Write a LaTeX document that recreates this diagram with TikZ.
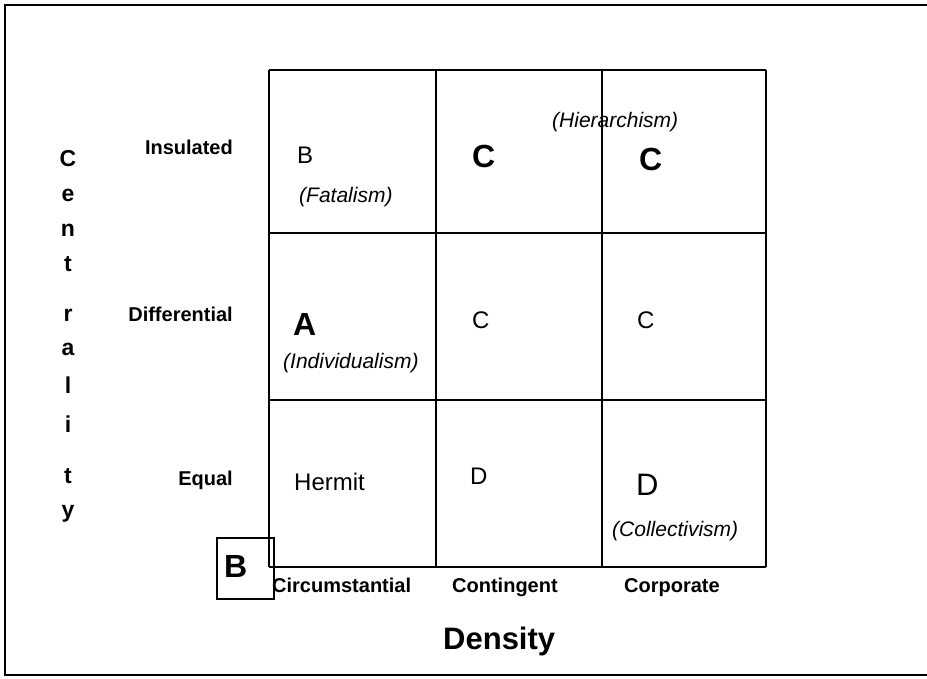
\documentclass[tikz,border=0pt]{standalone}
\usepackage{fontspec}
\setmainfont{Liberation Sans}
\usepackage{tikz}
\usetikzlibrary{positioning,calc}

\begin{document}
\begin{tikzpicture}[
  x=1pt, y=-1pt,
  frame/.style={line width=2pt},
  grid/.style={line width=1.4pt},
  axislab/.style={inner sep=0, font=\fontsize{20}{24}\selectfont\bfseries},
  axistitle/.style={inner sep=0, font=\fontsize{31}{36}\selectfont\bfseries},
  vletter/.style={inner sep=0, anchor=base, font=\fontsize{23}{26}\selectfont\bfseries},
  bigtype/.style={inner sep=0, anchor=base west, font=\fontsize{32}{36}\selectfont\bfseries},
  plaintype/.style={inner sep=0, anchor=base west, font=\fontsize{24}{28}\selectfont},
  bigplain/.style={inner sep=0, anchor=base west, font=\fontsize{31}{36}\selectfont},
  culture/.style={inner sep=0, anchor=base west, font=\fontsize{21}{24}\selectfont\itshape},
]
\useasboundingbox (0,0) rectangle (927,679);
% outer frame (open on the right)
\draw[frame] (927,5) -- (5,5) -- (5,675) -- (927,675);

% the 3x3 grid
\foreach \gx in {269,436,602,766}
  \draw[grid] (\gx,70) -- (\gx,567);
\foreach \gy in {70,233,400,567}
  \draw[grid] (269,\gy) -- (766,\gy);

% vertical axis title
\foreach \ch/\by [count=\i] in {C/167,e/202,n/237,t/272,r/322,a/355,l/393,i/432,t/483,y/517}
  \node[vletter] (cent\i) at (68,\by) {\ch};

% row labels
\node[axislab, anchor=base east] (insulated) at (233,155) {Insulated};
\node[axislab, anchor=base east] (differential) at (233,322) {Differential};
\node[axislab, anchor=base east] (equal) at (233,485) {Equal};

% column labels
\node[axislab, anchor=base west] (circum) at (272,592) {Circumstantial};
\node[axislab, anchor=base west] (conting) at (452,592) {Contingent};
\node[axislab, anchor=base west] (corpor) at (624,592) {Corporate};
\node[axistitle, anchor=base west] (density) at (443,649) {Density};

% top row
\node[plaintype] (fatB) at (297,164) {B};
\node[culture] (fatal) at (299,203) {(Fatalism)};
\node[bigtype] (hierC1) at (472,168) {C};
\node[culture] (hierarch) at (552,128) {(Hierarchism)};
\node[bigtype] (hierC2) at (639,171) {C};

% middle row
\node[bigtype] (indA) at (293,335) {A};
\node[culture] (individ) at (283,368) {(Individualism)};
\node[plaintype] (midC1) at (472,328) {C};
\node[plaintype] (midC2) at (637,328) {C};

% bottom row
\node[plaintype] (hermit) at (294,490) {Hermit};
\node[plaintype] (lowD) at (470,484) {D};
\node[bigplain] (collD) at (636,495) {D};
\node[culture] (collect) at (612,536) {(Collectivism)};

% key box
\draw[grid] (217,538) rectangle (274,599);
\node[bigtype] (keyB) at (224,577) {B};
\end{tikzpicture}
\end{document}
